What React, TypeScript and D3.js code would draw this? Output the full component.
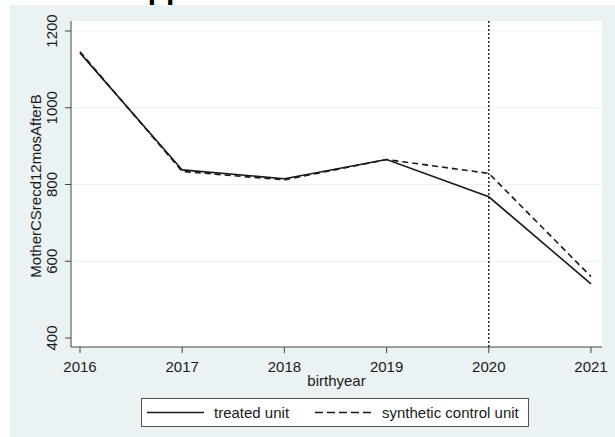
import React from "react";
import * as d3 from "d3";

const years = [2016, 2017, 2018, 2019, 2020, 2021];
const treated = [1143, 838, 815, 865, 768, 541];
const synthetic = [1146, 834, 812, 865, 829, 560];
const yTicks = [400, 600, 800, 1000, 1200];
const gridTicks = [600, 800, 1000, 1200];
const treatmentYear = 2020;
const seriesLabels = ["treated unit", "synthetic control unit"];
const xTitle = "birthyear";
const yTitle = "MotherCSrecd12mosAfterB";
const clippedTitle = "App";

const W = 615;
const H = 437;
const FONT = "'Liberation Sans', Arial, sans-serif";
const BG = "#eaf2f3";
const INK = "#1a1a1a";

export default function App() {
  const plot = { left: 71, right: 602, top: 21, bottom: 347 };
  const x = d3.scaleLinear().domain([2016, 2021]).range([80, 591]);
  const y = d3.scaleLinear().domain([400, 1200]).range([338, 31]);
  const line = d3
    .line<number>()
    .x((_, i) => x(years[i]))
    .y((d) => y(d));

  return (
    <svg
      width={W}
      height={H}
      style={{ position: "absolute", left: 0, top: 0, background: "#fff" }}
      fontFamily={FONT}
    >
      <text x={126} y={-1.5} fontSize={30} fontWeight="bold" fill="#000">
        {clippedTitle}
      </text>
      <rect x={10} y={5} width={W - 10} height={H - 5} fill={BG} />
      <rect
        x={plot.left}
        y={plot.top}
        width={plot.right - plot.left}
        height={plot.bottom - plot.top}
        fill="#fff"
      />
      {gridTicks.map((t) => (
        <line
          key={"g" + t}
          x1={plot.left}
          x2={plot.right}
          y1={y(t)}
          y2={y(t)}
          stroke={BG}
          strokeWidth={1.2}
        />
      ))}
      {/* axes */}
      <line x1={plot.left} x2={plot.left} y1={plot.top} y2={plot.bottom} stroke="#444" strokeWidth={1} />
      <line x1={plot.left} x2={plot.right} y1={plot.bottom} y2={plot.bottom} stroke="#444" strokeWidth={1} />
      {yTicks.map((t) => (
        <g key={"y" + t}>
          <line x1={plot.left - 6} x2={plot.left} y1={y(t)} y2={y(t)} stroke="#444" strokeWidth={1} />
          <text
            transform={`translate(57,${y(t)}) rotate(-90)`}
            textAnchor="middle"
            fontSize={15}
            fill={INK}
          >
            {t}
          </text>
        </g>
      ))}
      {years.map((yr) => (
        <g key={"x" + yr}>
          <line x1={x(yr)} x2={x(yr)} y1={plot.bottom} y2={plot.bottom + 6} stroke="#444" strokeWidth={1} />
          <text x={x(yr)} y={372} textAnchor="middle" fontSize={15} fill={INK}>
            {yr}
          </text>
        </g>
      ))}
      <text x={(plot.left + plot.right) / 2} y={386} textAnchor="middle" fontSize={15} fill={INK}>
        {xTitle}
      </text>
      <text
        transform={`translate(41,${186}) rotate(-90)`}
        textAnchor="middle"
        fontSize={15}
        fill={INK}
      >
        {yTitle}
      </text>
      {/* treatment line */}
      <line
        x1={x(treatmentYear)}
        x2={x(treatmentYear)}
        y1={plot.top}
        y2={plot.bottom}
        stroke="#333"
        strokeWidth={1.6}
        strokeDasharray="2,2"
      />
      <path d={line(treated) || ""} fill="none" stroke={INK} strokeWidth={1.6} />
      <path
        d={line(synthetic) || ""}
        fill="none"
        stroke={INK}
        strokeWidth={1.6}
        strokeDasharray="6,4"
      />
      {/* legend */}
      <rect x={141.5} y={398.5} width={387} height={28} fill="#fff" stroke="#555" strokeWidth={1} />
      <line x1={147} x2={204} y1={412.5} y2={412.5} stroke={INK} strokeWidth={1.6} />
      <text x={214} y={418} fontSize={15} fill={INK}>
        {seriesLabels[0]}
      </text>
      <line
        x1={315}
        x2={371}
        y1={412.5}
        y2={412.5}
        stroke={INK}
        strokeWidth={1.6}
        strokeDasharray="8,4"
      />
      <text x={382} y={418} fontSize={15} fill={INK}>
        {seriesLabels[1]}
      </text>
    </svg>
  );
}
